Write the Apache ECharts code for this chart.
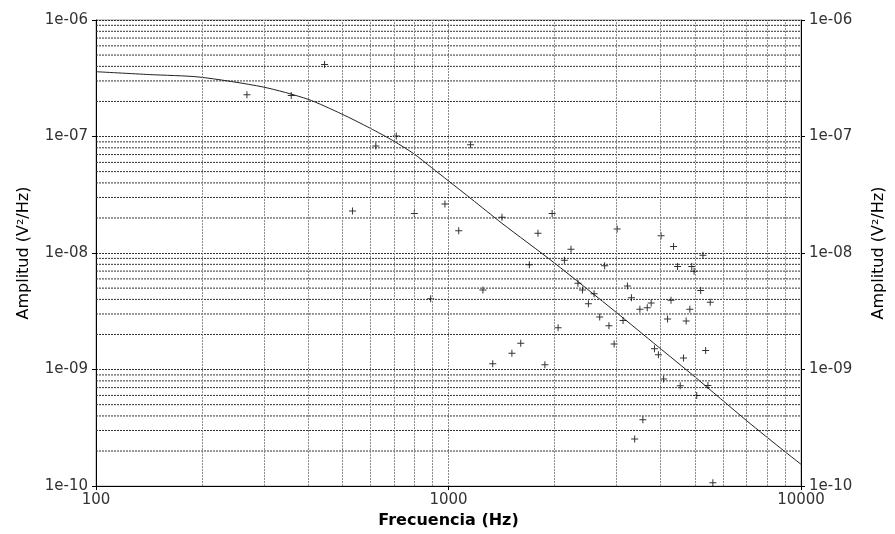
<!DOCTYPE html>
<html>
<head>
<meta charset="utf-8">
<script src="https://cdn.jsdelivr.net/npm/echarts@6/dist/echarts.min.js"></script>
<style>
  html, body { margin: 0; padding: 0; background: #fff; }
  #chart { width: 895px; height: 534px; }
</style>
</head>
<body>
<div id="chart"></div>
<script>
// Measured spectrum: frequency (Hz) and amplitude (V²/Hz)
const freqHz = [
  268, 358, 445, 534, 622, 711, 800, 890, 977, 1069,
  1155, 1252, 1335, 1418, 1513, 1603, 1696, 1794, 1877, 1968,
  2046, 2132, 2226, 2329, 2399, 2494, 2588, 2685, 2773, 2852,
  2951, 3009, 3127, 3218, 3303, 3374, 3491, 3559, 3663, 3758,
  3840, 3940, 4009, 4076, 4183, 4277, 4350, 4464, 4543, 4642,
  4723, 4838, 4899, 4974, 5060, 5193, 5270, 5364, 5445, 5527,
  5623
];
const amplitude = [
  2.28e-7, 2.25e-7, 4.15e-7, 2.29e-8, 8.3e-8, 1.01e-7, 2.19e-8, 4.05e-9, 2.63e-8, 1.55e-8,
  8.5e-8, 4.83e-9, 1.12e-9, 2.03e-8, 1.38e-9, 1.68e-9, 7.94e-9, 1.48e-8, 1.10e-9, 2.19e-8,
  2.29e-9, 8.69e-9, 1.08e-8, 5.51e-9, 4.83e-9, 3.67e-9, 4.47e-9, 2.83e-9, 7.78e-9, 2.38e-9,
  1.66e-9, 1.61e-8, 2.64e-9, 5.22e-9, 4.13e-9, 2.54e-10, 3.29e-9, 3.71e-10, 3.40e-9, 3.73e-9,
  1.51e-9, 1.34e-9, 1.41e-8, 8.31e-10, 2.71e-9, 3.93e-9, 1.14e-8, 7.68e-9, 7.25e-10, 1.26e-9,
  2.61e-9, 3.29e-9, 7.68e-9, 6.97e-9, 6.0e-10, 4.77e-9, 9.58e-9, 1.46e-9, 7.31e-10, 3.78e-9,
  1.07e-10
];

// Fitted spectral curve
const fitFreqHz = [
  100, 142, 196, 298, 399, 498, 599, 699, 796, 896,
  1000, 1160, 1418, 1989, 2998, 3924, 4974, 7021, 8995, 10000
];
const fitAmplitude = [
  3.60e-7, 3.40e-7, 3.24e-7, 2.66e-7, 2.09e-7, 1.56e-7, 1.18e-7, 9.15e-8, 7.14e-8, 5.4e-8,
  4.16e-8, 2.92e-8, 1.80e-8, 8.3e-9, 3.08e-9, 1.58e-9, 8.77e-10, 3.63e-10, 1.98e-10, 1.54e-10
];

// Log grid subdivisions
const xMinorGrid = [200, 300, 400, 500, 600, 700, 800, 900,
                    2000, 3000, 4000, 5000, 6000, 7000, 8000, 9000];
const yMinorGrid = [
  2e-10, 3e-10, 4e-10, 5e-10, 6e-10, 7e-10, 8e-10, 9e-10,
  2e-9, 3e-9, 4e-9, 5e-9, 6e-9, 7e-9, 8e-9, 9e-9,
  2e-8, 3e-8, 4e-8, 5e-8, 6e-8, 7e-8, 8e-8, 9e-8,
  2e-7, 3e-7, 4e-7, 5e-7, 6e-7, 7e-7, 8e-7, 9e-7
];
const X_MIN = 100, X_MAX = 10000;

const tickFont = { fontFamily: 'DejaVu Sans', fontSize: 15, color: '#333' };
const hGridStyle = { color: '#333', width: 1, type: [2, 1] };
const vGridStyle = { color: '#8a8a8a', width: 1, type: [2, 1] };

const expLabel = v => {
  const e = Math.round(Math.log10(v));
  const s = String(Math.abs(e)).padStart(2, '0');
  return '1e' + (e < 0 ? '-' : '+') + s;
};

const yAxisBase = (pos, gap) => ({
  type: 'log',
  logBase: 10,
  min: 1e-10,
  max: 1e-6,
  position: pos,
  name: 'Amplitud (V²/Hz)',
  nameLocation: 'middle',
  nameRotate: 90,
  nameGap: gap,
  nameTextStyle: { fontFamily: 'DejaVu Sans', fontSize: 16, color: '#000' },
  axisLine: { show: true, lineStyle: { color: '#000', width: 1 } },
  axisTick: { show: true, length: 4, lineStyle: { color: '#000' } },
  axisLabel: Object.assign({ margin: 8, formatter: expLabel }, tickFont),
  splitLine: { show: pos === 'left', lineStyle: hGridStyle },
  minorTick: { show: false },
  minorSplitLine: { show: false }
});

// horizontal subdivision lines, one short line series each
const hGridSeries = yMinorGrid.map(v => ({
  type: 'line',
  silent: true,
  z: 1,
  symbol: 'none',
  data: [[X_MIN, v], [X_MAX, v]],
  lineStyle: hGridStyle
}));

const chart = echarts.init(document.getElementById('chart'));
chart.setOption({
  animation: false,
  backgroundColor: '#fff',
  grid: {
    left: 96, right: 87, top: 20, bottom: 43,
    show: true, borderColor: '#9a9a9a', borderWidth: 1
  },
  xAxis: {
    type: 'log',
    logBase: 10,
    min: X_MIN,
    max: X_MAX,
    name: 'Frecuencia (Hz)',
    nameLocation: 'middle',
    nameGap: 21,
    nameTextStyle: { fontFamily: 'DejaVu Sans', fontSize: 16, fontWeight: 'bold', color: '#000' },
    axisLine: { show: true, lineStyle: { color: '#000', width: 1 } },
    axisTick: { show: true, length: 4, lineStyle: { color: '#000' } },
    axisLabel: Object.assign({ margin: 7, formatter: v => String(Math.round(v)) }, tickFont),
    splitLine: { show: true, lineStyle: vGridStyle },
    minorTick: { show: false },
    minorSplitLine: { show: false }
  },
  yAxis: [yAxisBase('left', 64), yAxisBase('right', 70)],
  series: [
    ...hGridSeries,
    {
      // vertical subdivision lines
      type: 'line',
      data: [],
      silent: true,
      z: 1,
      markLine: {
        silent: true,
        symbol: 'none',
        animation: false,
        label: { show: false },
        data: xMinorGrid.map(v => ({ xAxis: v, lineStyle: vGridStyle }))
      }
    },
    {
      name: 'ajuste',
      type: 'line',
      z: 3,
      data: fitFreqHz.map((f, i) => [f, fitAmplitude[i]]),
      showSymbol: false,
      smooth: 0.25,
      lineStyle: { color: '#222', width: 1 }
    },
    {
      name: 'datos',
      type: 'scatter',
      z: 4,
      data: freqHz.map((f, i) => [f, amplitude[i]]),
      symbol: 'path://M3,0H4V3H7V4H4V7H3V4H0V3H3Z',
      symbolSize: 7,
      itemStyle: { color: '#000' }
    }
  ]
});
</script>
</body>
</html>
